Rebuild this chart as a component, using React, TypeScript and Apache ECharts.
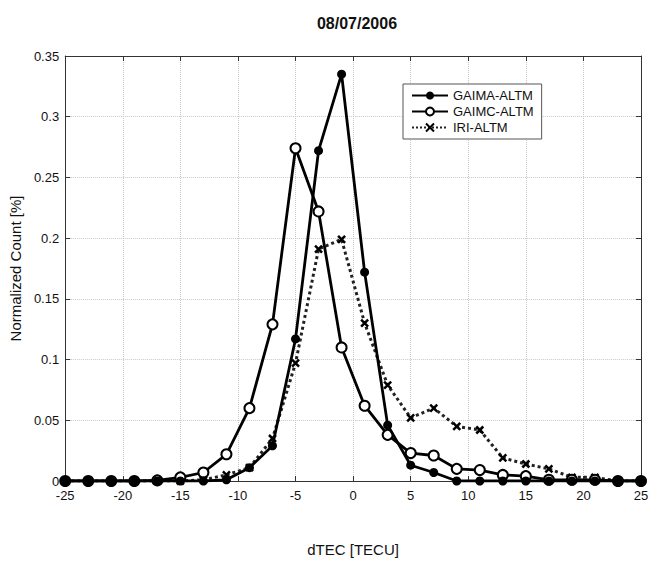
import React, { useEffect, useRef } from "react";
import * as echarts from "echarts";

const xValues = [-25, -23, -21, -19, -17, -15, -13, -11, -9, -7, -5, -3, -1, 1, 3, 5, 7, 9, 11, 13, 15, 17, 19, 21, 23, 25];
const gaima = [0, 0, 0, 0, 0, 0, 0, 0.001, 0.011, 0.029, 0.117, 0.272, 0.335, 0.172, 0.046, 0.013, 0.007, 0, 0, 0, 0, 0, 0, 0, 0, 0];
const gaimc = [0, 0, 0, 0, 0.0005, 0.003, 0.007, 0.022, 0.06, 0.129, 0.274, 0.222, 0.11, 0.062, 0.038, 0.023, 0.021, 0.01, 0.009, 0.005, 0.004, 0.001, 0.001, 0.001, 0, 0];
const iri = [0, 0, 0, 0, 0, 0, 0.001, 0.005, 0.011, 0.035, 0.097, 0.191, 0.199, 0.13, 0.079, 0.052, 0.06, 0.045, 0.042, 0.019, 0.014, 0.01, 0.003, 0.003, 0, 0];
const seriesNames = ["GAIMA-ALTM", "GAIMC-ALTM", "IRI-ALTM"];
const titleText = "08/07/2006";
const xLabel = "dTEC [TECU]";
const yLabel = "Normalized Count [%]";

const FONT = "Liberation Sans, Arial, sans-serif";

export default function App() {
  const ref = useRef<HTMLDivElement>(null);
  useEffect(() => {
    const chart = echarts.init(ref.current!, null, { renderer: "svg" });
    const pair = (ys: number[]) => xValues.map((x, i) => [x, ys[i]]);
    const axisCommon = {
      axisLine: { show: true, onZero: false, lineStyle: { color: "#333", width: 1 } },
      axisTick: { show: true, inside: true, length: 5, lineStyle: { color: "#333" } },
    };
    chart.setOption({
      animation: false,
      backgroundColor: "#fff",
      title: {
        text: titleText,
        left: 352,
        textAlign: "center",
        top: 10,
        textStyle: { fontFamily: FONT, fontSize: 16, fontWeight: "bold", color: "#111" },
      },
      grid: { left: 62, right: 16, top: 56, bottom: 82 },
      legend: {
        orient: "vertical",
        left: 403,
        top: 84,
        padding: [5, 8, 5, 8],
        itemGap: 3,
        itemWidth: 36,
        itemHeight: 10,
        borderColor: "#555",
        borderWidth: 1,
        backgroundColor: "#fff",
        textStyle: { fontFamily: FONT, fontSize: 13, color: "#111" },
        data: seriesNames,
      },
      xAxis: [
        {
          type: "value",
          min: -25,
          max: 25,
          interval: 5,
          name: xLabel,
          nameLocation: "middle",
          nameGap: 61,
          nameTextStyle: { fontFamily: FONT, fontSize: 15, color: "#111" },
          axisLabel: { fontFamily: FONT, fontSize: 13, color: "#111", margin: 8 },
          splitLine: { show: true, lineStyle: { color: "#c8c8c8", type: "dotted", width: 1 } },
          ...axisCommon,
        },
        {
          type: "value",
          position: "top",
          min: -25,
          max: 25,
          interval: 5,
          axisLabel: { show: false },
          splitLine: { show: false },
          ...axisCommon,
        },
      ],
      yAxis: [
        {
          type: "value",
          min: 0,
          max: 0.35,
          interval: 0.05,
          name: yLabel,
          nameLocation: "middle",
          nameGap: 40,
          nameTextStyle: { fontFamily: FONT, fontSize: 15, color: "#111" },
          axisLabel: { fontFamily: FONT, fontSize: 13, color: "#111", margin: 6 },
          splitLine: { show: true, lineStyle: { color: "#c8c8c8", type: "dotted", width: 1 } },
          ...axisCommon,
        },
        {
          type: "value",
          position: "right",
          min: 0,
          max: 0.35,
          interval: 0.05,
          axisLabel: { show: false },
          splitLine: { show: false },
          ...axisCommon,
        },
      ],
      series: [
        {
          name: seriesNames[0],
          type: "line",
          data: pair(gaima),
          symbol: "circle",
          symbolSize: 9,
          z: 4,
          lineStyle: { color: "#000", width: 2.8 },
          itemStyle: { color: "#000", borderColor: "#000", borderWidth: 0 },
        },
        {
          name: seriesNames[1],
          type: "line",
          data: pair(gaimc),
          symbol: "emptyCircle",
          symbolSize: 10,
          z: 3,
          lineStyle: { color: "#000", width: 2.8 },
          itemStyle: { color: "#000", borderColor: "#000", borderWidth: 2 },
        },
        {
          name: seriesNames[2],
          type: "line",
          data: pair(iri),
          symbol: "path://M0,0L10,10M10,0L0,10",
          symbolSize: 7,
          z: 2,
          lineStyle: { color: "#222", width: 3, type: "dotted" },
          itemStyle: { color: "none", borderColor: "#000", borderWidth: 2.5 },
        },
      ],
    });
    return () => chart.dispose();
  }, []);
  return <div ref={ref} style={{ width: 657, height: 563, position: "absolute", left: 0, top: 0 }} />;
}
